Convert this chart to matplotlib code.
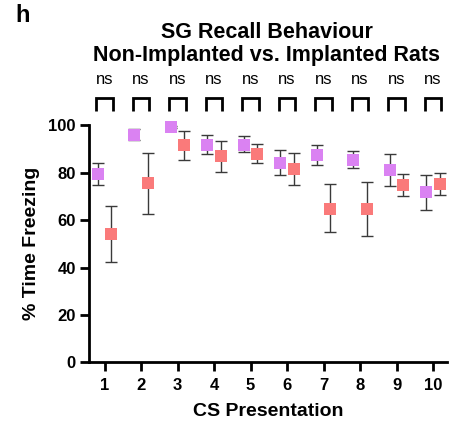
import matplotlib
matplotlib.use("Agg")
import matplotlib.pyplot as plt

plt.rcParams["font.family"] = ["Liberation Sans", "DejaVu Sans"]

# CS presentation number
cs = [1, 2, 3, 4, 5, 6, 7, 8, 9, 10]
# non-implanted (violet) mean and error bounds
non_mean = [79.6, 96.1, 99.2, 91.8, 91.8, 84.2, 87.4, 85.5, 81.3, 71.8]
non_hi = [84.2, 98.5, 99.6, 95.8, 95.3, 89.4, 91.5, 89.0, 87.7, 78.9]
non_lo = [75.0, 93.9, 98.8, 88.1, 88.8, 78.9, 83.4, 81.9, 74.5, 64.4]
# implanted (red) mean and error bounds
imp_mean = [54.0, 75.6, 91.5, 86.9, 87.8, 81.7, 64.8, 64.5, 75.0, 75.4]
imp_hi = [65.8, 88.3, 97.7, 93.3, 92.2, 88.5, 75.1, 75.9, 79.6, 80.0]
imp_lo = [42.4, 62.7, 85.2, 80.5, 83.9, 74.9, 55.0, 53.5, 70.0, 70.4]
sig = ["ns"] * 10

VIOLET = "#DA82F2"
RED = "#FA7A7A"
OFF = 0.18

fig = plt.figure(figsize=(4.51, 4.32), dpi=100)
ax = fig.add_axes([0.197, 0.161, 0.794, 0.549])


def draw_group(xs, mean, lo, hi, color):
    yerr = [[m - l for m, l in zip(mean, lo)], [h - m for m, h in zip(mean, hi)]]
    ax.errorbar(xs, mean, yerr=yerr, fmt="none", ecolor="#3a3a3a",
                elinewidth=1.0, capsize=4, capthick=1.0, zorder=2, clip_on=False)
    ax.plot(xs, mean, "s", color=color, markersize=9, markeredgewidth=0,
            zorder=3, clip_on=False)


draw_group([x - OFF for x in cs], non_mean, non_lo, non_hi, VIOLET)
draw_group([x + OFF for x in cs], imp_mean, imp_lo, imp_hi, RED)

# significance brackets
for x, s in zip(cs, sig):
    ax.plot([x - 0.23, x - 0.23, x + 0.23, x + 0.23], [106.0, 111.4, 111.4, 106.0],
            color="black", lw=2.0, clip_on=False, solid_capstyle="butt",
            solid_joinstyle="miter")
    ax.text(x, 119.3, s, ha="center", va="center", fontsize=12)

ax.set_xlim(0.57, 10.38)
ax.set_ylim(0, 100)
ax.set_xticks(cs)
ax.set_yticks([0, 20, 40, 60, 80, 100])
for sp in ["top", "right"]:
    ax.spines[sp].set_visible(False)
for sp in ["left", "bottom"]:
    ax.spines[sp].set_linewidth(2.0)
ax.tick_params(width=2.0, length=6.5, labelsize=12, pad=3)
ax.tick_params(axis="x", pad=5)
for lab in ax.get_xticklabels() + ax.get_yticklabels():
    lab.set_fontweight("bold")

ax.set_xlabel("CS Presentation", fontsize=14, fontweight="bold", labelpad=7)
ax.set_ylabel("% Time Freezing", fontsize=14, fontweight="bold", labelpad=6)

fig.text(0.592, 1 - 33 / 432, "SG Recall Behaviour", ha="center", va="center",
         fontsize=15.5, fontweight="bold")
fig.text(0.592, 1 - 56 / 432, "Non-Implanted vs. Implanted Rats", ha="center",
         va="center", fontsize=15.5, fontweight="bold")
fig.text(0.035, 1 - 16 / 432, "h", ha="left", va="center", fontsize=17,
         fontweight="bold")

fig.savefig("out.png", dpi=100)
